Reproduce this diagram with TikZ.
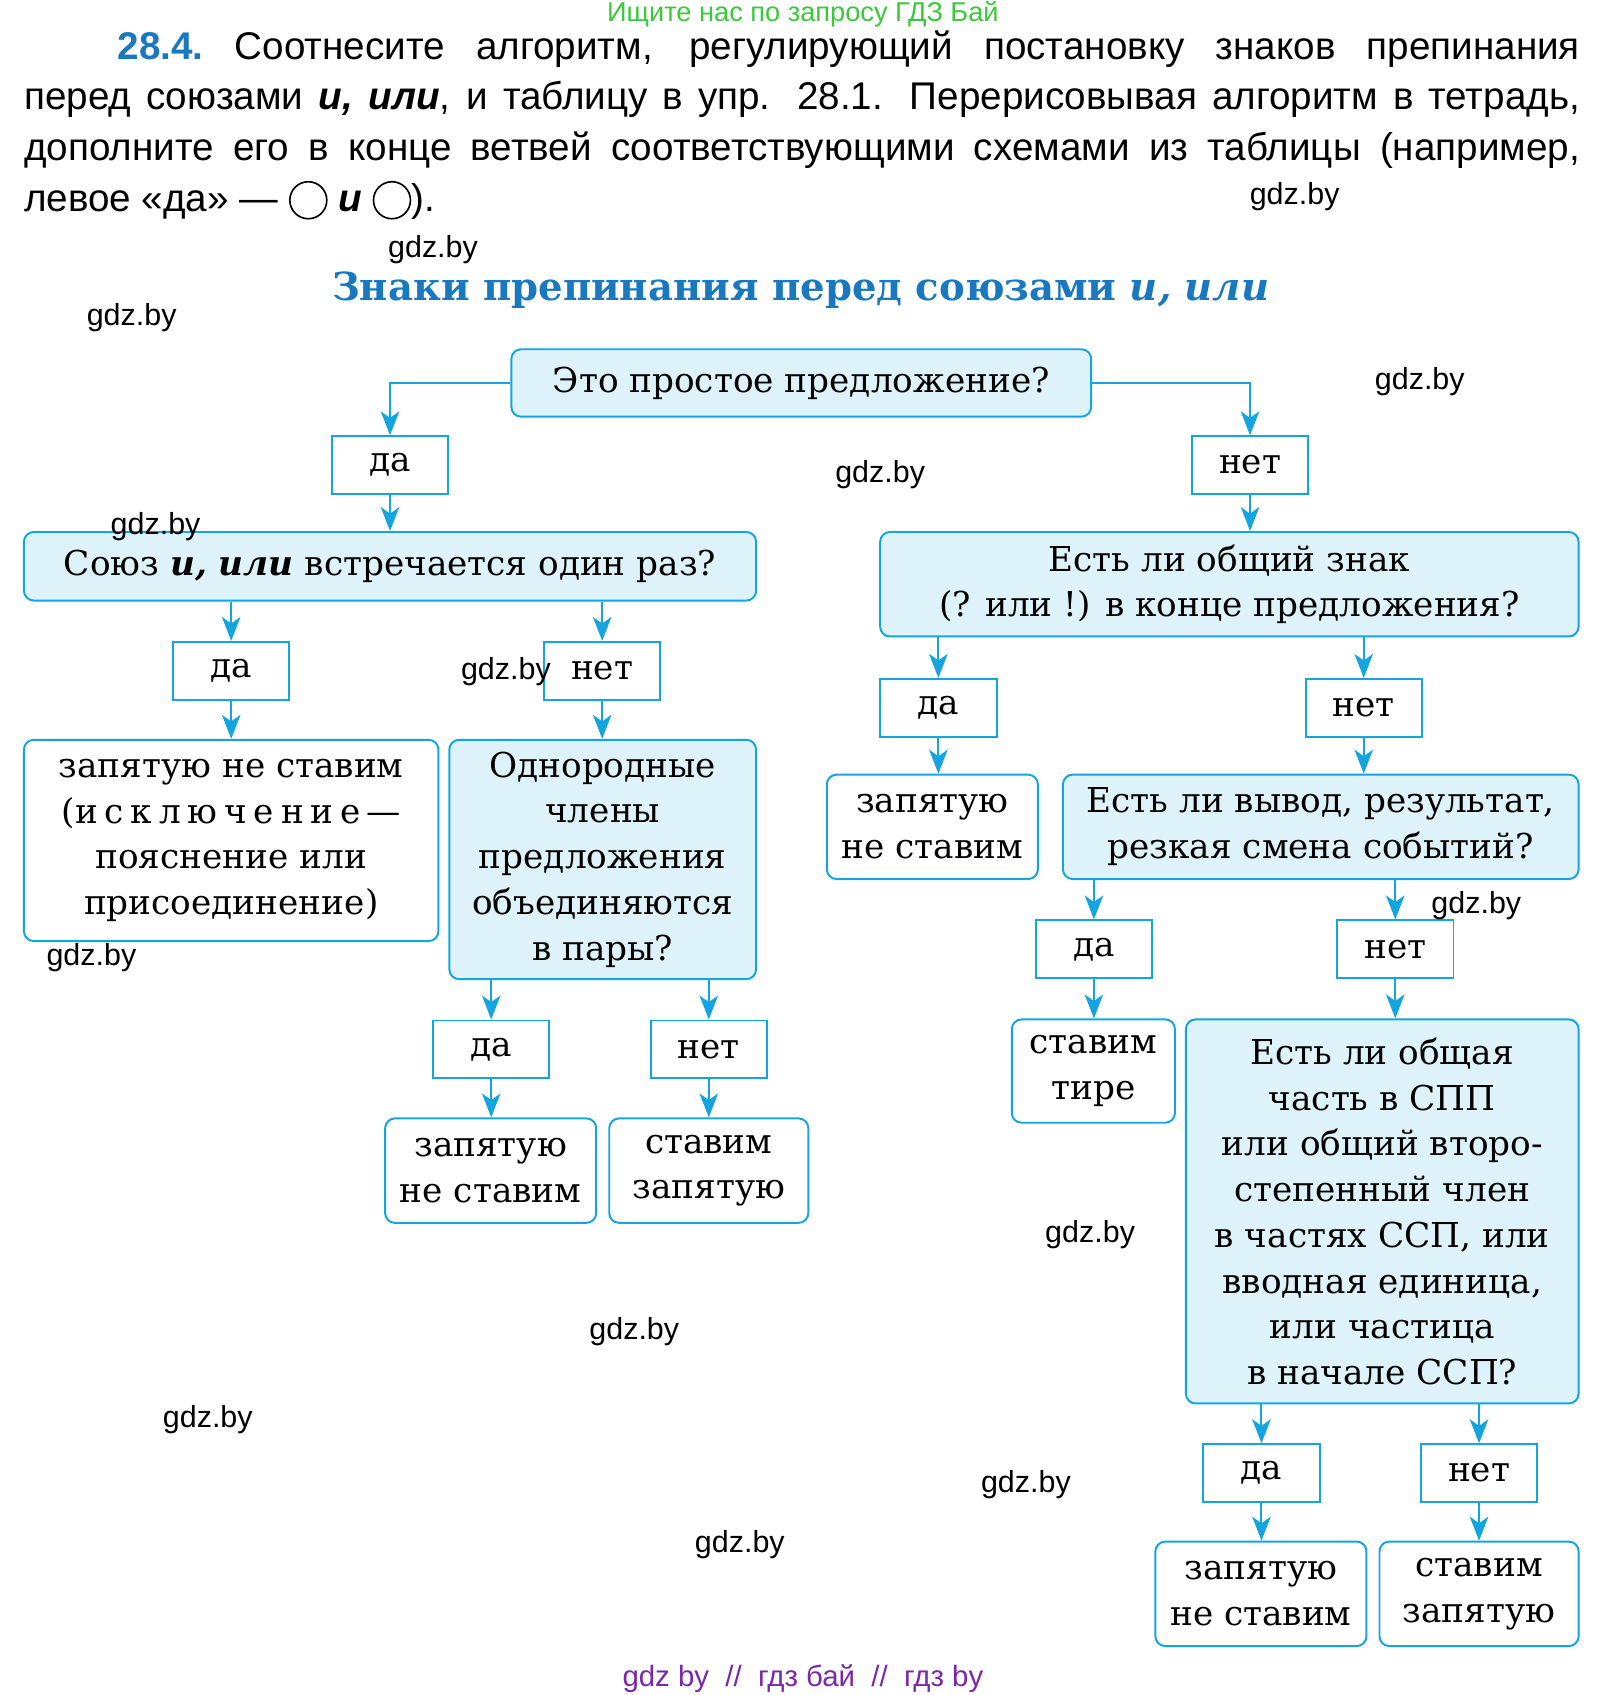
\documentclass[tikz,border=0pt]{standalone}
\usepackage{fontspec}
\setmainfont{DejaVu Serif}
\newfontfamily\hsans{Liberation Sans}
\usetikzlibrary{arrows.meta}
\definecolor{cy}{RGB}{20,165,225}
\definecolor{lb}{RGB}{222,242,250}
\definecolor{tb}{RGB}{25,120,190}
\definecolor{gr}{RGB}{60,200,60}
\definecolor{pu}{RGB}{120,40,170}
\begin{document}
\begin{tikzpicture}[x=1pt,y=-1pt,
 q/.style={draw=cy,line width=1.8pt,rounded corners=9pt,fill=lb,align=center,inner sep=2pt,font=\fontsize{31.5}{42}\selectfont},
 a/.style={q,fill=white},
 yn/.style={draw=cy,line width=1.8pt,fill=white,minimum width=107pt,minimum height=53pt,inner sep=0pt,font=\fontsize{31.5}{42}\selectfont},
 arr/.style={draw=cy,line width=1.8pt,-{Stealth[length=22pt,width=17pt,inset=6pt]}},
 wm/.style={font=\hsans\fontsize{28}{28}\selectfont,inner sep=0pt}]
\useasboundingbox (0,0) rectangle (1470,1558);
\node[font=\hsans\fontsize{25}{25}\selectfont,text=gr,inner sep=0pt] (top) at (738,13) {Ищите нас по запросу ГДЗ Бай};
\node[anchor=north west,text width=1430pt,align=justify,inner sep=0pt,font=\hsans\fontsize{35.5}{46.5}\selectfont] (hdr) at (22,28)
 {\hspace*{86pt}\textcolor{tb}{\textbf{28.4.}}\ Соотнесите алгоритм, регулирующий постановку знаков препинания\linebreak
 перед союзами \textbf{\textit{и, или}}, и таблицу в упр. 28.1. Перерисовывая алгоритм в тетрадь,\linebreak
 дополните его в конце ветвей соответствующими схемами из таблицы (например,\linebreak
 левое «да» — \tikz[baseline=-10pt]\draw[line width=1.5pt](0,0) circle (17pt); \textbf{\textit{и}} \tikz[baseline=-10pt]\draw[line width=1.5pt](0,0) circle (17pt);).\par};
\node[text=tb,font=\bfseries\fontsize{35.5}{40}\selectfont,inner sep=0pt] (title) at (736,267) {Знаки препинания перед союзами \textit{и, или}};

\node[q,minimum width=533pt,minimum height=62pt] (Q1) at (736.5,352) {Это простое предложение?};
\node[yn] (da1) at (358.5,427.5) {да};
\node[yn] (net1) at (1149,427.5) {нет};
\node[q,minimum width=673pt,minimum height=63pt] (Q2) at (358.5,520.5) {Союз \textbf{\textit{и, или}} встречается один раз?};
\node[q,minimum width=642pt,minimum height=96pt] (Q3) at (1130,537) {Есть ли общий знак\\(? или !) в конце предложения?};
\node[yn] (da2) at (212.5,616.5) {да};
\node[yn] (net2) at (553.5,616.5) {нет};
\node[a,minimum width=381pt,minimum height=185pt] (A1) at (212.5,772.5) {запятую не ставим\\({\addfontfeature{LetterSpace=20}исключение}\,—\\пояснение или\\присоединение)};
\node[q,minimum width=282pt,minimum height=220pt] (Q4) at (554,790) {Однородные\\члены\\предложения\\объединяются\\в пары?};
\node[yn] (da3) at (862.5,650.5) {да};
\node[yn] (net3) at (1253.5,650.5) {нет};
\node[a,minimum width=194pt,minimum height=96pt] (A2) at (857,760) {запятую\\не ставим};
\node[q,minimum width=474pt,minimum height=96pt] (Q5) at (1214,760) {Есть ли вывод, результат,\\резкая смена событий?};
\node[yn] (da4) at (1005.5,872.5) {да};
\node[yn] (net4) at (1282.5,872.5) {нет};
\node[a,minimum width=150pt,minimum height=95pt] (A3) at (1005,984.5) {ставим\\тире};
\node[q,minimum width=361pt,minimum height=353pt] (Q6) at (1270.5,1113.5) {Есть ли общая\\часть в СПП\\или общий второ-\\степенный член\\в частях ССП, или\\вводная единица,\\или частица\\в начале ССП?};
\node[yn] (da5) at (451.5,964.5) {да};
\node[yn] (net5) at (651.5,964.5) {нет};
\node[a,minimum width=194pt,minimum height=96pt] (A4) at (451,1076) {запятую\\не ставим};
\node[a,minimum width=183pt,minimum height=96pt] (A5) at (651.5,1076) {ставим\\запятую};
\node[yn] (da6) at (1159.5,1354) {да};
\node[yn] (net6) at (1359.5,1354) {нет};
\node[a,minimum width=194pt,minimum height=96pt] (A6) at (1159,1465) {запятую\\не ставим};
\node[a,minimum width=183pt,minimum height=96pt] (A7) at (1359.5,1465) {ставим\\запятую};

\draw[arr] (Q1.west) -| (da1.north);
\draw[arr] (Q1.east) -| (net1.north);
\draw[arr] (da1) -- (Q2);
\draw[arr] (net1.south) -- (net1.south |- Q3.north);
\foreach \p/\c in {Q2/da2,Q2/net2,Q3/da3,Q3/net3,Q4/da5,Q4/net5,Q5/da4,Q5/net4,Q6/da6,Q6/net6}
  \draw[arr] (\c.north |- \p.south) -- (\c.north);
\foreach \p/\c in {da2/A1,net2/Q4,da5/A4,net5/A5,da3/A2,net3/Q5,da4/A3,net4/Q6,da6/A6,net6/A7}
  \draw[arr] (\p.south) -- (\p.south |- \c.north);

\foreach \x/\y [count=\i] in {1190/181,398/229,121/292,1305/351,809/436,143/484,465/617,84/880,1357/832,1002/1135,583/1224,191/1305,943/1365,680/1420}
  \node[wm] (w\i) at (\x,\y) {gdz.by};
\node[font=\hsans\fontsize{27}{27}\selectfont,text=pu,inner sep=0pt] (bot) at (738,1543) {gdz by \ // \ гдз бай \ // \ гдз by};
\end{tikzpicture}
\end{document}
